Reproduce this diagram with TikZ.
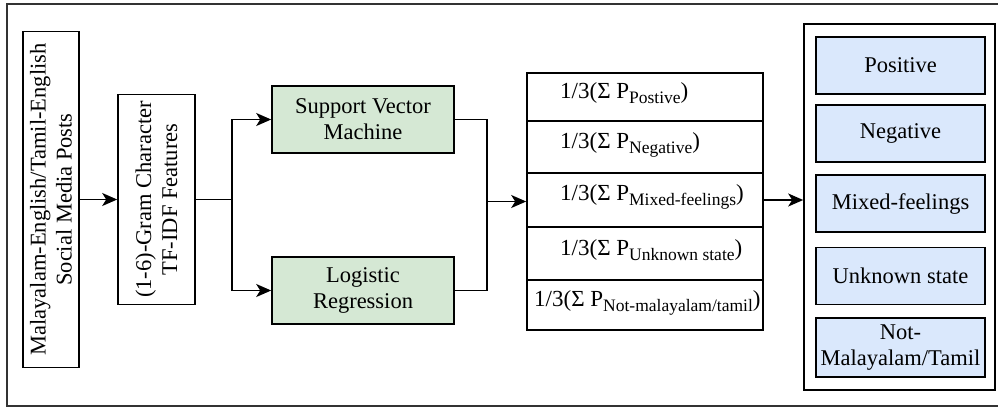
\documentclass[tikz,border=0pt]{standalone}
\usepackage{fontspec}
\setmainfont{Liberation Serif}
\usetikzlibrary{arrows.meta}
\definecolor{gfill}{HTML}{D5E8D4}
\definecolor{bfill}{HTML}{DAE8FC}
\newcommand{\psub}[1]{\raisebox{-5pt}{\fontsize{17.5}{17.5}\selectfont #1}}
\begin{document}
\begin{tikzpicture}[x=1pt,y=-1pt,
  box/.style={draw=black, line width=1.6pt, inner sep=0pt, align=center, font=\fontsize{22.5}{26}\selectfont},
  greenbox/.style={box, fill=gfill, minimum width=182pt, minimum height=67pt},
  bluebox/.style={box, fill=bfill, minimum width=169pt, minimum height=57pt},
  cell/.style={draw=black, line width=1.6pt, inner sep=0pt, minimum width=236pt},
  celltext/.style={anchor=base west, inner sep=0pt, font=\fontsize{23}{26}\selectfont},
  arr/.style={-{Stealth[length=15pt,width=13pt,inset=4pt]}, line width=1.6pt},
  ln/.style={line width=1.6pt}]
\useasboundingbox (0,0) rectangle (998,408);
\draw[line width=2pt, draw=black!80] (7,4) rectangle (1006,406);

% input and features (rotated)
\node[box, rotate=90, minimum width=336pt, minimum height=56pt] (inp) at (51,199.5)
  {Malayalam-English/Tamil-English\\Social Media Posts};
\node[box, rotate=90, minimum width=210pt, minimum height=77pt] (feat) at (156.5,199.5)
  {(1-6)-Gram Character\\TF-IDF Features};

% classifiers
\node[greenbox] (svm) at (363,119.5) {Support Vector\\Machine};
\node[greenbox] (lr) at (363,290.5) {Logistic\\Regression};

% table cells
\node[cell, minimum height=48pt] (r1) at (645,97) {};
\node[cell, minimum height=52pt] (r2) at (645,147) {};
\node[cell, minimum height=54pt] (r3) at (645,200) {};
\node[cell, minimum height=53pt] (r4) at (645,253.5) {};
\node[cell, minimum height=50pt] (r5) at (645,305) {};
\node[celltext] (t1) at (560,98) {1/3(Σ P\psub{Postive})};
\node[celltext] (t2) at (560,148) {1/3(Σ P\psub{Negative})};
\node[celltext] (t3) at (560,200) {1/3(Σ P\psub{Mixed-feelings})};
\node[celltext] (t4) at (560,255) {1/3(Σ P\psub{Unknown state})};
\node[celltext] (t5) at (534,306) {1/3(Σ P\psub{Not-malayalam/tamil})};

% output box
\node[box, fill=white, minimum width=191pt, minimum height=366pt] (rbox) at (899.5,207) {};
\node[bluebox] (b1) at (900.5,65.5) {Positive};
\node[bluebox] (b2) at (900.5,133.5) {Negative};
\node[bluebox] (b3) at (900.5,203.5) {Mixed-feelings};
\node[bluebox] (b4) at (900.5,276) {Unknown state};
\node[bluebox, minimum height=59pt] (b5) at (900.5,347.5) {Not-\\Malayalam/Tamil};

% connectors
\coordinate (j1) at (232,199.5);
\coordinate (j2) at (487,201.5);
\draw[arr] (inp.south) -- (feat.north);
\draw[ln] (feat.south) -- (j1);
\draw[arr] (j1) |- (svm.west);
\draw[arr] (j1) |- (lr.west);
\draw[ln] (svm.east) -| (j2);
\draw[ln] (lr.east) -| (j2);
\draw[arr] (j2) -- (j2 -| r1.west);
\draw[arr] (r3.east) -- (r3.east -| rbox.west);
\end{tikzpicture}
\end{document}
